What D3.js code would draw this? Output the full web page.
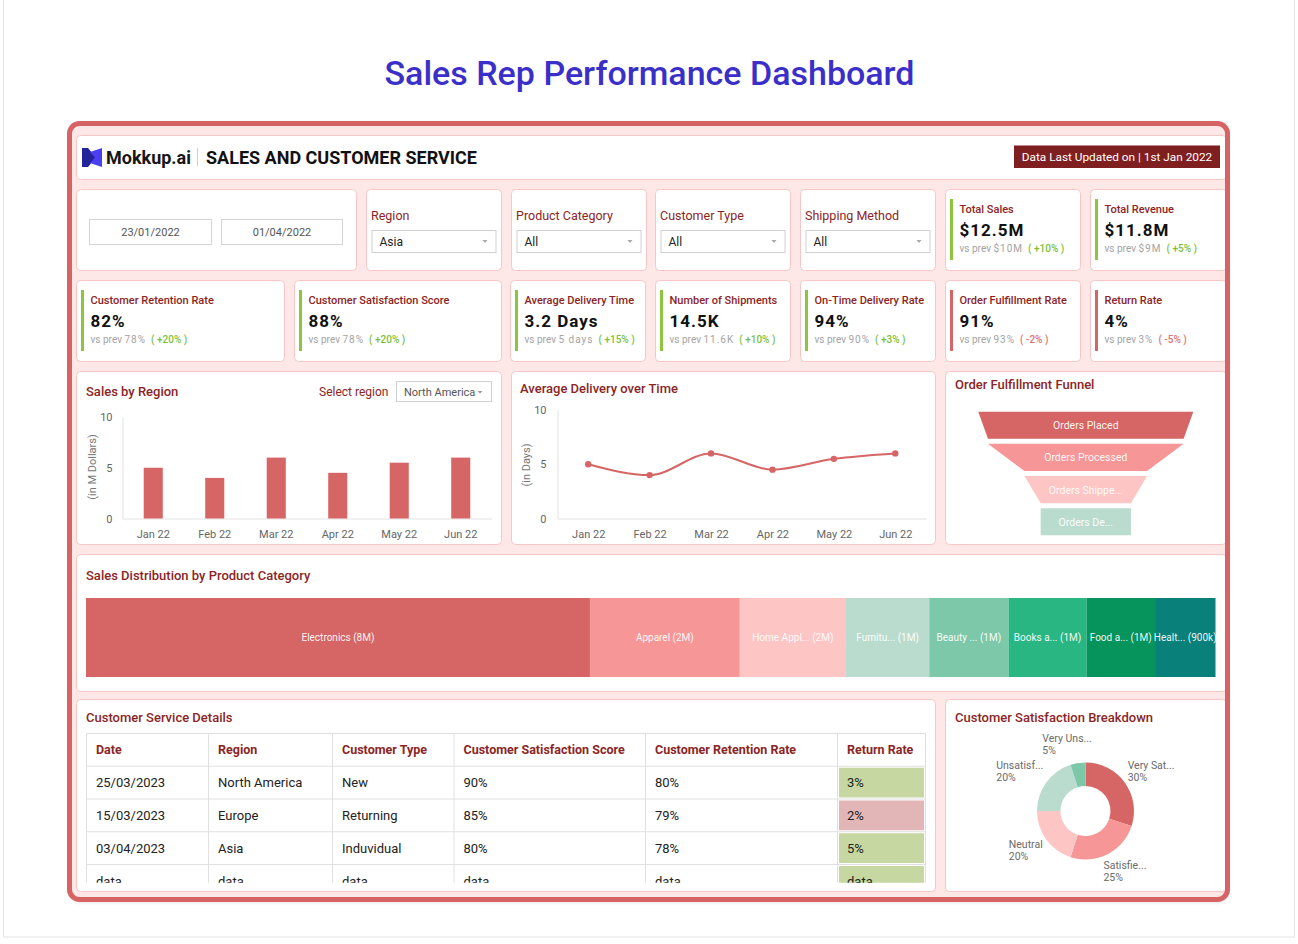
<!DOCTYPE html>
<html><head><meta charset="utf-8">
<script src="https://cdn.jsdelivr.net/npm/d3@7"></script>
<style>
html,body{margin:0;padding:0;background:#fff;}
svg{display:block;font-family:Roboto,"Noto Sans",sans-serif;}
</style></head><body>
<svg id="c" width="1298" height="944"></svg>
<script>
// ---------------- DATA ----------------
const pageTitle = "Sales Rep Performance Dashboard";
const brandName = "Mokkup.ai";
const dashTitle = "SALES AND CUSTOMER SERVICE";
const updatedText = "Data Last Updated on | 1st Jan 2022";
const dateRange = ["23/01/2022", "01/04/2022"];
const filterNames = ["Region", "Product Category", "Customer Type", "Shipping Method"];
const filterValues = ["Asia", "All", "All", "All"];
const kpiNames = ["Total Sales","Total Revenue","Customer Retention Rate","Customer Satisfaction Score","Average Delivery Time","Number of Shipments","On-Time Delivery Rate","Order Fulfillment Rate","Return Rate"];
const kpiValues = ["$12.5M","$11.8M","82%","88%","3.2 Days","14.5K","94%","91%","4%"];
const kpiPrev = ["$10M","$9M","78%","78%","5 days","11.6K","90%","93%","3%"];
const kpiChange = ["+10%","+5%","+20%","+20%","+15%","+10%","+3%","-2%","-5%"];
const kpiPositive = [true,true,true,true,true,true,true,false,false];
const months = ["Jan 22","Feb 22","Mar 22","Apr 22","May 22","Jun 22"];
const salesByRegion = [5, 4, 6, 4.5, 5.5, 6];
const avgDelivery = [5, 4, 6, 4.5, 5.5, 6];
const yTicks = [0, 5, 10];
const selectedRegion = "North America";
const funnelStages = ["Orders Placed","Orders Processed","Orders Shipped","Orders Delivered"];
const funnelLabels = ["Orders Placed","Orders Processed","Orders Shippe...","Orders De..."];
const funnelValues = [100, 91, 57, 42];
const categories = ["Electronics","Apparel","Home Appliances","Furniture","Beauty & Personal Care","Books & Media","Food & Beverages","Health & Wellness"];
const categoryShort = ["Electronics","Apparel","Home Appl...","Furnitu...","Beauty ...","Books a...","Food a...","Healt..."];
const categorySales = [7.5, 2.23, 1.58, 1.24, 1.18, 1.16, 1.02, 0.9];
const tableColumns = ["Date","Region","Customer Type","Customer Satisfaction Score","Customer Retention Rate","Return Rate"];
const tableRows = [
  ["25/03/2023","North America","New","90%","80%","3%"],
  ["15/03/2023","Europe","Returning","85%","79%","2%"],
  ["03/04/2023","Asia","Induvidual","80%","78%","5%"],
  ["data","data","data","data","data","data"]
];
const returnRateGood = [true, false, true, true];
const satLevels = ["Very Satisfied","Satisfied","Neutral","Unsatisfied","Very Unsatisfied"];
const satLabels = ["Very Sat...","Satisfie...","Neutral","Unsatisf...","Very Uns..."];
const satShares = [30, 25, 20, 20, 5];

// ---------------- STYLE ----------------
const RED = "#d66565", DARK = "#8b2525", GREEN = "#8cc63e", NEG = "#e07272";
const PINK_BORDER = "#f8c6c6";
const palette = ["#d66565","#f69696","#fec5c5","#badccf","#7ec8aa","#29b682","#07935c","#0a807b"];

const svg = d3.select("#c");
const defs = svg.append("defs");
defs.append("clipPath").attr("id","frameClip").append("rect").attr("x",72).attr("y",126).attr("width",1153).attr("height",771).attr("rx",6);
defs.append("clipPath").attr("id","tableClip").append("rect").attr("x",80).attr("y",725).attr("width",852).attr("height",157.7);
const sh = defs.append("filter").attr("id","shadow").attr("x","-5%").attr("y","-5%").attr("width","110%").attr("height","110%");
sh.append("feDropShadow").attr("dx",0).attr("dy",2).attr("stdDeviation",2).attr("flood-color","#000").attr("flood-opacity",0.18);

// page card
svg.append("rect").attr("x",3.5).attr("y",-5).attr("width",1291).attr("height",942).attr("fill","#fff").attr("stroke","#e3e3e3");
svg.append("text").attr("x",649.5).attr("y",85).attr("text-anchor","middle").attr("font-size",34).attr("font-weight",500).attr("fill","#3b2fc9").text(pageTitle);

// frame background
svg.append("rect").attr("x",69.5).attr("y",123.5).attr("width",1158).attr("height",776).attr("rx",10).attr("fill","#fde7e7").attr("filter","url(#shadow)");
const g = svg.append("g").attr("clip-path","url(#frameClip)");

function panel(x,y,w,h){
  g.append("rect").attr("x",x).attr("y",y).attr("width",w).attr("height",h).attr("rx",4)
   .attr("fill","#fff").attr("stroke",PINK_BORDER).attr("stroke-width",1);
}
function title(x,y,t){
  g.append("text").attr("x",x).attr("y",y).attr("font-size",13).attr("font-weight",500).attr("fill",DARK).text(t);
}

// ---------- header ----------
panel(76.5,135.5,1150,44);
g.append("path").attr("d","M82,148 L88,148 L96,157.5 L88,167 L82,167 Z").attr("fill","#23239a");
g.append("path").attr("d","M90,152 L102,148 L102,167 L90,163 L95,157.5 Z").attr("fill","#4a3ff2");
g.append("text").attr("x",106).attr("y",163.5).attr("font-size",18).attr("font-weight",700).attr("fill","#161616").text(brandName);
g.append("line").attr("x1",197.5).attr("x2",197.5).attr("y1",148).attr("y2",166).attr("stroke","#cfcfcf");
g.append("text").attr("x",206).attr("y",164).attr("font-size",18).attr("font-weight",700).attr("fill","#111").text(dashTitle);
g.append("rect").attr("x",1014).attr("y",145.5).attr("width",206).attr("height",22.5).attr("fill","#7f1f1f");
g.append("text").attr("x",1117).attr("y",160.5).attr("text-anchor","middle").attr("font-size",11.8).attr("fill","#fff").text(updatedText);

// ---------- filters ----------
panel(76.5,189.5,280,81);
[[89.5,122],[221.5,121]].forEach((b,i)=>{
  g.append("rect").attr("x",b[0]).attr("y",219.5).attr("width",b[1]).attr("height",25).attr("fill","#fff").attr("stroke","#d4d4d4");
  g.append("text").attr("x",b[0]+b[1]/2).attr("y",235.5).attr("text-anchor","middle").attr("font-size",11).attr("fill","#555").text(dateRange[i]);
});
const filterX = [366.5,511.5,655.5,800.5];
filterNames.forEach((n,i)=>{
  const x = filterX[i];
  panel(x,189.5,135,81);
  g.append("text").attr("x",x+4.5).attr("y",220).attr("font-size",12.5).attr("fill",DARK).text(n);
  g.append("rect").attr("x",x+5.5).attr("y",230.5).attr("width",124).attr("height",22).attr("fill","#fff").attr("stroke","#d0d0d0");
  g.append("text").attr("x",x+13).attr("y",246).attr("font-size",12).attr("fill","#222").text(filterValues[i]);
  g.append("path").attr("d",`M${x+116},240 L${x+121},240 L${x+118.5},243 Z`).attr("fill","#aaa");
});

// ---------- KPI cards ----------
const kpiBoxes = [[945.5,189.5,135],[1090.5,189.5,136],[76.5,280.5,208],[294.5,280.5,207],[510.5,280.5,135],[655.5,280.5,135],[800.5,280.5,135],[945.5,280.5,135],[1090.5,280.5,136]];
kpiNames.forEach((n,i)=>{
  const [x,y,w] = kpiBoxes[i];
  panel(x,y,w,81);
  g.append("rect").attr("x",x+4.5).attr("y",y+9.5).attr("width",3).attr("height",61).attr("fill",kpiPositive[i]?GREEN:RED);
  g.append("text").attr("x",x+14).attr("y",y+23.5).attr("font-size",11).attr("font-weight",500).attr("fill",DARK).text(n);
  g.append("text").attr("x",x+14).attr("y",y+46.5).attr("font-size",17).attr("font-weight",700).attr("letter-spacing",1).attr("fill","#111").text(kpiValues[i]);
  const t = g.append("text").attr("x",x+14).attr("y",y+62.5).attr("font-size",10).attr("fill","#a3a3a3");
  t.append("tspan").text("vs prev ");
  t.append("tspan").attr("letter-spacing",1).text(kpiPrev[i]);
  t.append("tspan").attr("dx",5).attr("font-weight",500).attr("fill",kpiPositive[i]?"#7cbf3a":NEG).text("( "+kpiChange[i]+" )");
});

// ---------- Sales by Region ----------
panel(76.5,371.5,425,173);
title(86,396,"Sales by Region");
g.append("text").attr("x",319).attr("y",395.5).attr("font-size",12).attr("fill",DARK).text("Select region");
g.append("rect").attr("x",396.5).attr("y",381.5).attr("width",95).attr("height",20).attr("fill","#fff").attr("stroke","#d0d0d0");
g.append("text").attr("x",404).attr("y",395.5).attr("font-size",11).attr("fill","#555").text(selectedRegion);
g.append("path").attr("d","M477.5,391 L482.5,391 L480,393.5 Z").attr("fill","#999");

const xb = d3.scaleBand().domain(months).range([122.5,491.5]).paddingInner(0.69).paddingOuter(0.345);
const yb = d3.scaleLinear().domain([0,10]).range([518.5,417]);
function styleAxis(sel){
  sel.select(".domain").attr("stroke","#e2e2e2");
  sel.selectAll("text").attr("fill","#666").attr("font-size",11).attr("font-family","Roboto, sans-serif");
}
g.append("g").attr("transform","translate(122.5,0)").call(d3.axisLeft(yb).tickValues(yTicks).tickSize(0).tickPadding(10)).call(styleAxis);
g.append("g").attr("transform","translate(0,518.5)").call(d3.axisBottom(xb).tickSize(0).tickPadding(12)).call(styleAxis);
g.append("g").selectAll("rect").data(salesByRegion).join("rect")
  .attr("x",(d,i)=>xb(months[i])).attr("width",xb.bandwidth())
  .attr("y",d=>yb(d)).attr("height",d=>yb(0)-yb(d)).attr("fill",RED);
g.append("text").attr("transform","translate(96,467) rotate(-90)").attr("text-anchor","middle").attr("font-size",11).attr("fill","#777").text("(in M Dollars)");

// ---------- Average Delivery ----------
panel(511.5,371.5,424,173);
title(520,393,"Average Delivery over Time");
const xl = d3.scalePoint().domain(months).range([557.5,926]).padding(0.5);
const yl = d3.scaleLinear().domain([0,10]).range([518.5,410]);
g.append("g").attr("transform","translate(557.5,0)").call(d3.axisLeft(yl).tickValues(yTicks).tickSize(0).tickPadding(11)).call(styleAxis);
g.append("g").attr("transform","translate(0,518.5)").call(d3.axisBottom(xl).tickSize(0).tickPadding(12)).call(styleAxis);
const line = d3.line().x((d,i)=>xl(months[i])).y(d=>yl(d)).curve(d3.curveMonotoneX);
g.append("path").datum(avgDelivery).attr("d",line).attr("fill","none").attr("stroke",RED).attr("stroke-width",2);
g.append("g").selectAll("circle").data(avgDelivery).join("circle")
  .attr("cx",(d,i)=>xl(months[i])).attr("cy",d=>yl(d)).attr("r",3.2).attr("fill",RED);
g.append("text").attr("transform","translate(530,465) rotate(-90)").attr("text-anchor","middle").attr("font-size",11).attr("fill","#777").text("(in Days)");

// ---------- Funnel ----------
panel(945.5,371.5,281,173);
title(955,388.5,"Order Fulfillment Funnel");
const fw = d3.scaleLinear().domain([0,100]).range([0,215]);
const fy = d3.scaleBand().domain(funnelStages).range([411.7,535.3]).paddingInner(5/32);
const fcx = 1085.8;
funnelStages.forEach((s,i)=>{
  const top = fw(funnelValues[i]);
  const bot = i < funnelValues.length-1 ? fw(funnelValues[i+1]) : top;
  const y0 = fy(s), y1 = y0 + fy.bandwidth();
  g.append("path").attr("d",`M${fcx-top/2},${y0} L${fcx+top/2},${y0} L${fcx+bot/2},${y1} L${fcx-bot/2},${y1} Z`).attr("fill",palette[i]);
  g.append("text").attr("x",fcx).attr("y",(y0+y1)/2+4).attr("text-anchor","middle").attr("font-size",10.5).attr("fill","#fff").attr("fill-opacity",0.95).text(funnelLabels[i]);
});

// ---------- Treemap ----------
panel(76.5,554.5,1150,137);
title(86,579.5,"Sales Distribution by Product Category");
const root = d3.hierarchy({children: categories.map((c,i)=>({name:c, short:categoryShort[i], value:categorySales[i], idx:i}))}).sum(d=>d.value||0);
d3.treemap().tile(d3.treemapDice).size([1129.5,79]).paddingInner(0)(root);
const fmtV = v => v >= 1 ? Math.round(v)+"M" : Math.round(v*1000)+"k";
const tg = g.append("g").attr("transform","translate(86,598)");
const cell = tg.selectAll("g").data(root.leaves()).join("g");
cell.append("rect").attr("x",d=>d.x0).attr("y",d=>d.y0).attr("width",d=>d.x1-d.x0).attr("height",d=>d.y1-d.y0).attr("fill",d=>palette[d.data.idx]);
cell.append("text").attr("x",d=>(d.x0+d.x1)/2).attr("y",d=>(d.y0+d.y1)/2+3.5).attr("text-anchor","middle").attr("font-size",10).attr("fill","#fff").attr("fill-opacity",0.95)
  .text(d=>d.data.short+" ("+fmtV(d.data.value)+")");

// ---------- Table ----------
panel(76.5,699.5,859,192);
title(86,721.5,"Customer Service Details");
const colEdges = [86.5,208.5,332.5,454,645.5,837.5,925.5];
const colX = d3.scaleOrdinal().domain(tableColumns).range(colEdges);
const rowKeys = ["h",0,1,2,3];
const ry = d3.scaleBand().domain(rowKeys).range([733.5,733.5+5*32.75]);
const tb = g.append("g").attr("clip-path","url(#tableClip)");
tableRows.forEach((r,i)=>{
  const x0 = colX(tableColumns[5]);
  tb.append("rect").attr("x",x0+1.5).attr("y",ry(i)+1.5).attr("width",colEdges[6]-x0-3).attr("height",ry.bandwidth()-3)
    .attr("fill",returnRateGood[i]?"#c6d7a1":"#e2b6b6");
});
rowKeys.forEach(k=>{
  tb.append("line").attr("x1",colEdges[0]).attr("x2",colEdges[6]).attr("y1",ry(k)).attr("y2",ry(k)).attr("stroke","#e0e0e0");
});
colEdges.forEach(x=>{
  tb.append("line").attr("x1",x).attr("x2",x).attr("y1",733.5).attr("y2",900).attr("stroke","#e0e0e0");
});
tableColumns.forEach(c=>{
  tb.append("text").attr("x",colX(c)+9.5).attr("y",ry("h")+20.5).attr("font-size",12.5).attr("font-weight",700).attr("fill",DARK).text(c);
});
tableRows.forEach((r,i)=>{
  r.forEach((v,j)=>{
    tb.append("text").attr("x",colX(tableColumns[j])+9.5).attr("y",ry(i)+21).attr("font-size",13).attr("fill","#222").text(v);
  });
});

// ---------- Donut ----------
panel(945.5,699.5,281,192);
title(955,721.5,"Customer Satisfaction Breakdown");
const pie = d3.pie().sort(null).value(d=>d)(satShares);
const arc = d3.arc().innerRadius(25).outerRadius(48.5);
const dg = g.append("g").attr("transform","translate(1085.5,811)");
dg.selectAll("path").data(pie).join("path").attr("d",arc).attr("fill",(d,i)=>palette[i]);
pie.forEach((d,i)=>{
  const a = (d.startAngle+d.endAngle)/2;
  const s = Math.sin(a), c = Math.cos(a);
  const px = 55*s, py = -55*c;
  const t = dg.append("text").attr("font-size",10.5).attr("fill","#6a6a6a");
  t.append("tspan").attr("x",0).attr("y",0).text(satLabels[i]);
  t.append("tspan").attr("x",0).attr("y",12).text(satShares[i]+"%");
  const bb = t.node().getBBox();
  const sx = Math.sign(s)*Math.sqrt(Math.abs(s));
  const left = px - bb.width*(1-sx)/2;
  const top = py - bb.height*(1+c)/2;
  t.attr("transform",`translate(${left-bb.x},${top-bb.y})`);
});

// frame border on top
svg.append("rect").attr("x",69.5).attr("y",123.5).attr("width",1158).attr("height",776).attr("rx",10).attr("fill","none").attr("stroke","#d66464").attr("stroke-width",5);
</script>
</body></html>
